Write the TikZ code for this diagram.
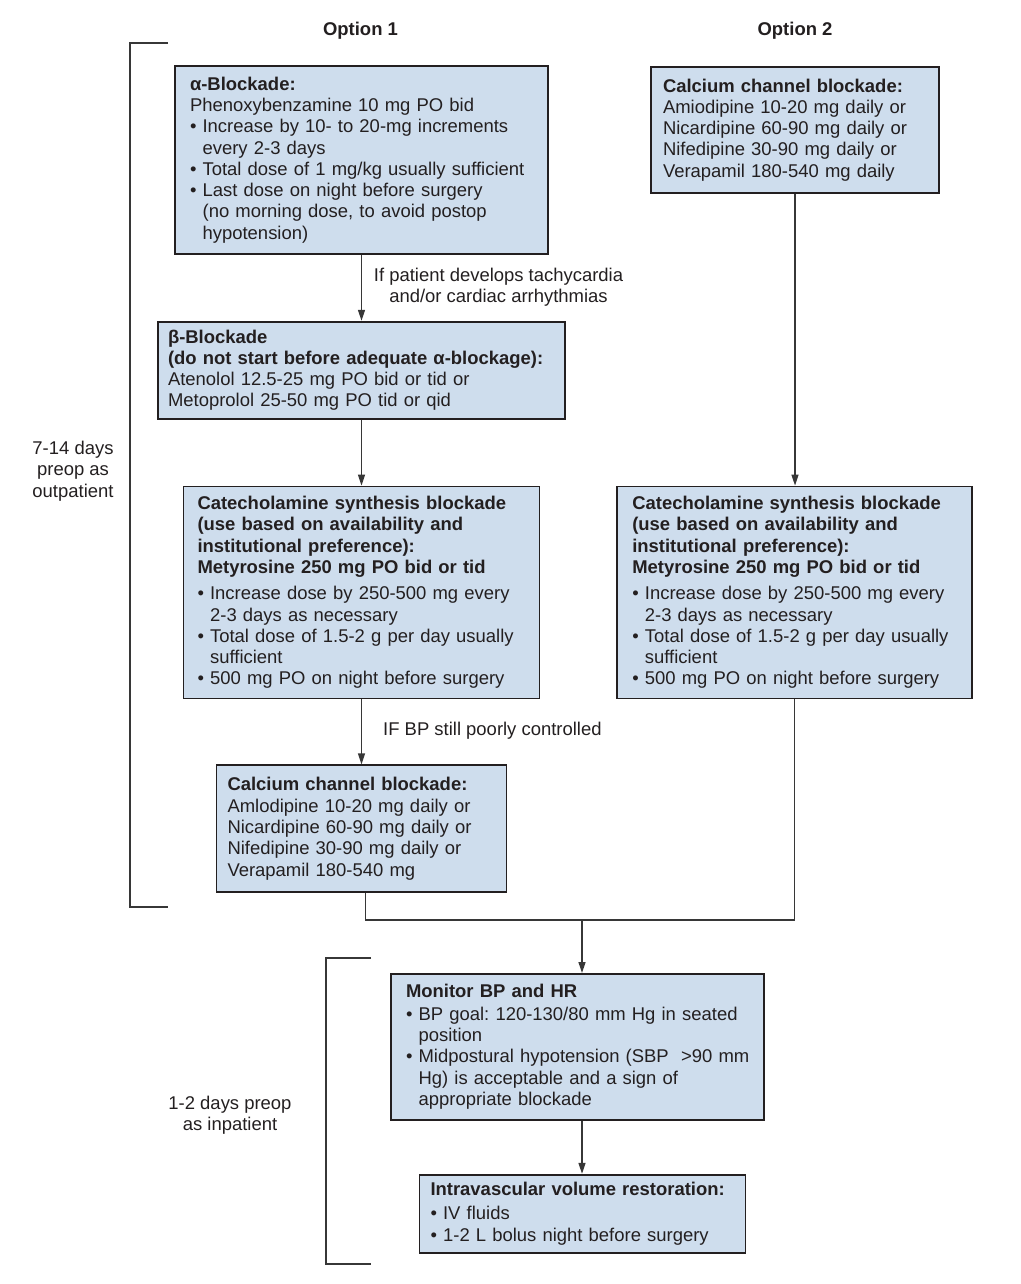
\documentclass[tikz,border=0pt]{standalone}
\usepackage{fontspec}
\setmainfont{Liberation Sans}
\usepackage{tikz}
\usetikzlibrary{positioning,arrows.meta}
\definecolor{boxfill}{RGB}{206,221,237}
\definecolor{boxline}{RGB}{35,31,32}
\definecolor{inktext}{RGB}{35,31,32}
\definecolor{linkline}{RGB}{55,55,55}
\newcommand{\boxfont}{\fontsize{18.45pt}{21.3pt}\selectfont\frenchspacing}
\newcommand{\bul}{\textbullet\ }
\newcommand{\ind}{\phantom{\textbullet\ }}
\tikzset{
  padl/.style={execute at begin node={\leftskip=#1}},
  stepbox/.style={draw=boxline, fill=boxfill, line width=1.8pt, inner sep=0pt,
                  align=left, text=inktext, font=\boxfont, padl=13pt},
  flow/.style={linkline, line width=1.3pt, -{Triangle[length=11pt,width=7pt]}},
  link/.style={linkline, line width=1.3pt},
  brace/.style={linkline, line width=1.4pt},
  note/.style={font=\boxfont, text=inktext, inner sep=0pt, align=center},
  head/.style={font=\boxfont\bfseries, text=inktext, inner sep=0pt},
}

\begin{document}
\begin{tikzpicture}[x=1pt, y=-1pt]
  \useasboundingbox (0,0) rectangle (1020,1284);
  \node[head] (opt1) at (360.5,31) {Option 1};
  \node[head] (opt2) at (795,31) {Option 2};

  \node[stepbox, text width=373pt, minimum height=188pt, padl=15pt, anchor=north] (alpha) at (361.5,65)
    {\textbf{α-Blockade:}\\
     Phenoxybenzamine 10 mg PO bid\\
     \bul Increase by 10- to 20-mg increments\\
     \ind every 2-3 days\\
     \bul Total dose of 1 mg/kg usually sufficient\\
     \bul Last dose on night before surgery\\
     \ind (no morning dose, to avoid postop\\
     \ind hypotension)};
  \node[stepbox, text width=407pt, minimum height=97pt, padl=10pt, below=66pt of alpha] (beta)
    {\textbf{β-Blockade}\\
     \textbf{(do not start before adequate α-blockage):}\\
     Atenolol 12.5-25 mg PO bid or tid or\\
     Metoprolol 25-50 mg PO tid or qid};
  \node[stepbox, text width=356pt, minimum height=212pt, padl=14pt, below=66pt of beta] (cat1)
    {\textbf{Catecholamine synthesis blockade}\\
     \textbf{(use based on availability and}\\
     \textbf{institutional preference):}\\
     \textbf{Metyrosine 250 mg PO bid or tid}\\[5pt]
     \bul Increase dose by 250-500 mg every\\
     \ind 2-3 days as necessary\\
     \bul Total dose of 1.5-2 g per day usually\\
     \ind sufficient\\
     \bul 500 mg PO on night before surgery};
  \node[stepbox, text width=290pt, minimum height=127pt, padl=11pt, below=65pt of cat1] (ccb1)
    {\textbf{Calcium channel blockade:}\\
     Amlodipine 10-20 mg daily or\\
     Nicardipine 60-90 mg daily or\\
     Nifedipine 30-90 mg daily or\\
     Verapamil 180-540 mg};

  \node[stepbox, text width=288pt, minimum height=126pt, padl=12pt, anchor=north] (ccb2) at (795,66)
    {\textbf{Calcium channel blockade:}\\
     Amiodipine 10-20 mg daily or\\
     Nicardipine 60-90 mg daily or\\
     Nifedipine 30-90 mg daily or\\
     Verapamil 180-540 mg daily};
  \node[stepbox, text width=355pt, minimum height=212pt, padl=15pt, right=76pt of cat1] (cat2)
    {\textbf{Catecholamine synthesis blockade}\\
     \textbf{(use based on availability and}\\
     \textbf{institutional preference):}\\
     \textbf{Metyrosine 250 mg PO bid or tid}\\[5pt]
     \bul Increase dose by 250-500 mg every\\
     \ind 2-3 days as necessary\\
     \bul Total dose of 1.5-2 g per day usually\\
     \ind sufficient\\
     \bul 500 mg PO on night before surgery};

  \coordinate (join) at (582,920);
  \node[stepbox, text width=373pt, minimum height=146pt, padl=15pt, anchor=north] (monitor) at (577.5,973)
    {\textbf{Monitor BP and HR}\\[1pt]
     \bul BP goal: 120-130/80 mm Hg in seated\\
     \ind position\\
     \bul Midpostural hypotension (SBP \ >90 mm\\
     \ind Hg) is acceptable and a sign of\\
     \ind appropriate blockade};
  \node[stepbox, text width=326pt, minimum height=78pt, padl=11pt, below=53pt of monitor, xshift=5pt] (ivfluid)
    {\textbf{Intravascular volume restoration:}\\[3pt]
     \bul IV fluids\\
     \bul 1-2 L bolus night before surgery};

  \draw[flow] (alpha) -- (beta);
  \draw[flow] (beta) -- (cat1);
  \draw[flow] (cat1) -- (ccb1);
  \draw[flow] (ccb2.south) -- (ccb2.south |- cat2.north);
  \draw[link] ([xshift=4pt]ccb1.south) |- (join) -| (cat2.south);
  \draw[flow] (join) -- (join |- monitor.north);
  \draw[flow] (monitor.south -| join) -- (join |- ivfluid.north);

  \node[note] (tachy) at (498.5,287) {If patient develops tachycardia\\and/or cardiac arrhythmias};
  \node[note, anchor=west] (ifbp) at (383,731) {IF BP still poorly controlled};
  \node[note] (outlbl) at (73,471) {7-14 days\\preop as\\outpatient};
  \node[note] (inlbl) at (230,1115) {1-2 days preop\\as inpatient};

  \draw[brace] (168,43) -- (130,43) -- (130,907) -- (168,907);
  \draw[brace] (371,958) -- (326,958) -- (326,1264) -- (371,1264);
\end{tikzpicture}
\end{document}
